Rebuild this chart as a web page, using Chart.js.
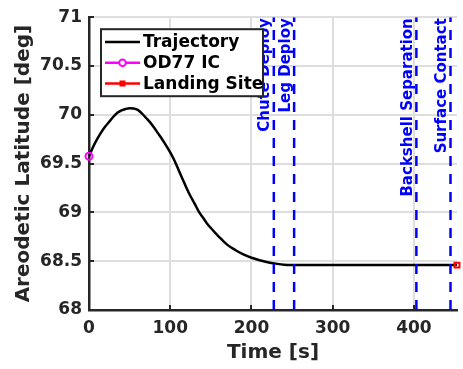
<!DOCTYPE html>
<html><head><meta charset="utf-8">
<script src="https://cdn.jsdelivr.net/npm/chart.js@4"></script>
<style>html,body{margin:0;padding:0;background:#fff;} #wrap{width:463px;height:369px;position:relative}</style>
</head><body><div id="wrap"><canvas id="c" width="463" height="369"></canvas></div>
<script>
const trajTime = [0,5,10,15,20,25,30,35,40,45,50,55,60,65,70,75,80,85,90,95,100,105,110,115,120,125,130,135,140,145,150,160,170,180,190,200,210,220,230,240,250,275,300,325,350,375,400,425,453];
const trajLat  = [69.575,69.67,69.75,69.82,69.88,69.93,69.98,70.02,70.045,70.06,70.068,70.065,70.05,70.015,69.97,69.925,69.87,69.81,69.75,69.685,69.615,69.535,69.44,69.345,69.25,69.165,69.09,69.01,68.95,68.89,68.84,68.75,68.67,68.615,68.57,68.535,68.51,68.49,68.475,68.463,68.46,68.46,68.46,68.46,68.46,68.46,68.46,68.46,68.46];
const icTime = [0];
const icLat = [69.575];
const landTime = [453];
const landLat = [68.46];
const eventNames = ['Chute Deploy','Leg Deploy','Backshell Separation','Surface Contact'];
const eventTimes = [227.5, 252.5, 403, 445];
const xTicks = [0,100,200,300,400];
const yTicks = [68,68.5,69,69.5,70,70.5,71];
const xLimits = [0,453];
const yLimits = [68,71];
const legendNames = ['Trajectory','OD77 IC','Landing Site'];

const FONT = '"DejaVu Sans", sans-serif';
const AX = '#262626';
const pts = (xs, ys) => xs.map((t,i)=>({x:t,y:ys[i]}));

const datasets = [
  {label:legendNames[0], data:pts(trajTime,trajLat), borderColor:'#000', borderWidth:2.5, pointRadius:0, cubicInterpolationMode:'monotone', order:5},
];
eventTimes.forEach((t,i)=>{
  datasets.push({label:eventNames[i], data:[{x:t,y:yLimits[0]},{x:t,y:yLimits[1]}], borderColor:'#0000ff', borderWidth:2.5, borderDash:[10,8], pointRadius:0, order:3});
});
datasets.push({label:legendNames[1], data:pts(icTime,icLat), borderColor:'#ff00ff', backgroundColor:'rgba(0,0,0,0)', pointStyle:'circle', pointRadius:3.5, pointBorderWidth:2, showLine:false, clip:false, order:1});
datasets.push({label:legendNames[2], data:pts(landTime,landLat), borderColor:'#ff0000', backgroundColor:'rgba(0,0,0,0)', pointStyle:'rect', pointRadius:3.5, pointBorderWidth:2, showLine:false, clip:false, order:1});

const overlay = {
  id:'overlay',
  afterDatasetsDraw(chart){
    const {ctx, chartArea:a, scales:{x,y}} = chart;
    ctx.save();
    ctx.strokeStyle = AX; ctx.lineWidth = 2;
    yTicks.forEach(v=>{const py=Math.round(y.getPixelForValue(v)); ctx.beginPath(); ctx.moveTo(a.left,py); ctx.lineTo(a.left+5,py); ctx.stroke();});
    xTicks.forEach(v=>{const px=Math.round(x.getPixelForValue(v)); ctx.beginPath(); ctx.moveTo(px,a.bottom); ctx.lineTo(px,a.bottom-5); ctx.stroke();});
    ctx.fillStyle = '#0000ff'; ctx.font = 'bold 15px ' + FONT;
    eventTimes.forEach((t,i)=>{
      const px = x.getPixelForValue(t);
      ctx.save(); ctx.translate(px-1, a.top+1); ctx.rotate(-Math.PI/2);
      ctx.textAlign='right'; ctx.textBaseline='bottom';
      ctx.fillText(eventNames[i],0,0); ctx.restore();
    });
    // legend
    const L = a.left+12, T = a.top+12, W = 162, H = 67;
    ctx.fillStyle = '#fff'; ctx.fillRect(L,T,W,H);
    ctx.strokeStyle = AX; ctx.lineWidth = 2; ctx.strokeRect(L,T,W,H);
    const cols = ['#000','#ff00ff','#ff0000'];
    ctx.font = 'bold 17px ' + FONT; ctx.textBaseline='middle'; ctx.textAlign='left';
    legendNames.forEach((n,i)=>{
      const ry = T + 12.7 + i*20.8;
      ctx.strokeStyle = cols[i]; ctx.lineWidth = 2.5;
      ctx.beginPath(); ctx.moveTo(L+4,ry); ctx.lineTo(L+39,ry); ctx.stroke();
      const cx = L+21.5;
      ctx.lineWidth = 2;
      if(i===1){ctx.fillStyle='#fff'; ctx.beginPath(); ctx.arc(cx,ry,3.3,0,Math.PI*2); ctx.fill(); ctx.stroke();}
      if(i===2){ctx.fillStyle=cols[i]; ctx.fillRect(cx-3,ry-3,6,6);}
      ctx.fillStyle='#000'; ctx.fillText(n, L+42, ry+1);
    });
    ctx.restore();
  }
};

new Chart(document.getElementById('c'), {
  type:'line',
  data:{datasets},
  plugins:[overlay],
  options:{
    responsive:false, animation:false,
    layout:{padding:{left:0,right:2,top:17,bottom:0}},
    plugins:{legend:{display:false}, tooltip:{enabled:false}},
    scales:{
      x:{type:'linear', min:xLimits[0], max:xLimits[1],
        afterBuildTicks:s=>{s.ticks = xTicks.map(v=>({value:v}));},
        afterFit:s=>{s.height = 59;},
        grid:{color:'#dedede', lineWidth:2, drawTicks:false},
        border:{color:AX, width:2.5},
        ticks:{font:{family:FONT, size:17, weight:'bold'}, color:AX, padding:8, maxRotation:0, callback:v=>String(v)},
        title:{display:true, text:'Time [s]', font:{family:FONT, size:20, weight:'bold'}, color:AX, padding:{top:0,bottom:4}}
      },
      y:{type:'linear', min:yLimits[0], max:yLimits[1],
        afterBuildTicks:s=>{s.ticks = yTicks.map(v=>({value:v}));},
        afterFit:s=>{s.width = 89;},
        grid:{color:'#dedede', lineWidth:2, drawTicks:false},
        border:{color:AX, width:2.5},
        ticks:{font:{family:FONT, size:17, weight:'bold'}, color:AX, padding:7, callback:v=>String(v)},
        title:{display:true, text:'Areodetic Latitude [deg]', font:{family:FONT, size:20, weight:'bold'}, color:AX, padding:{top:12,bottom:0}}
      }
    }
  }
});
</script></body></html>
